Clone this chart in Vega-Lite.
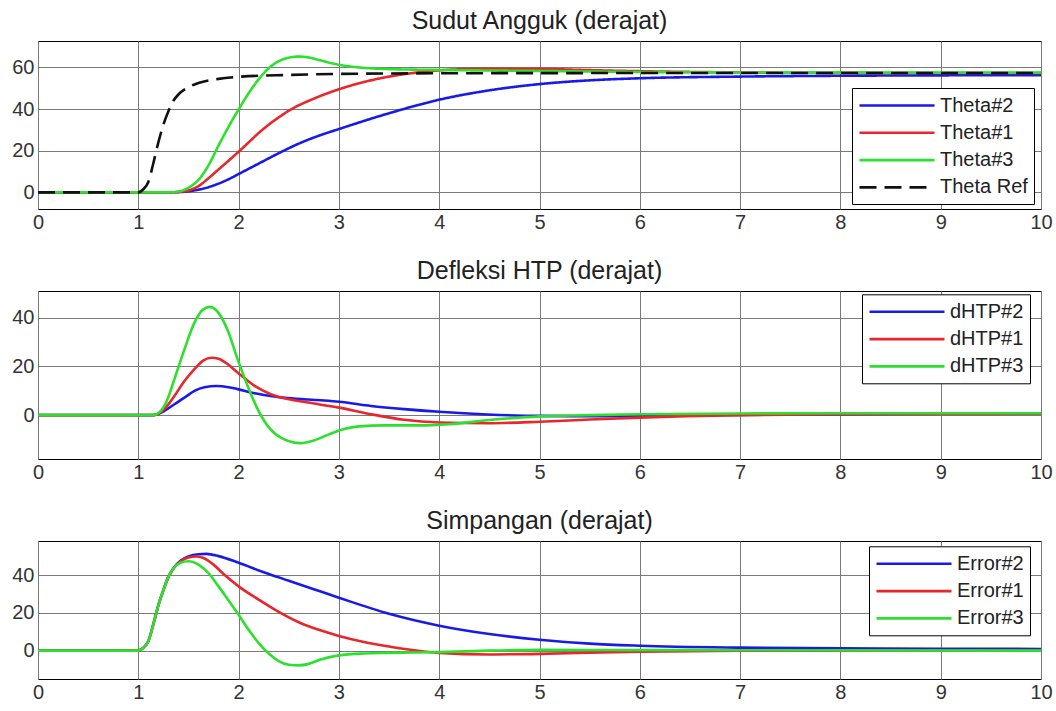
{
  "$schema": "https://vega.github.io/schema/vega-lite/v6.json",
  "padding": {"left": 7, "top": 8, "right": 0, "bottom": 0},
  "background": "white",
  "spacing": 82,
  "bounds": "flush",
  "resolve": {"scale": {"color": "independent", "strokeDash": "independent", "y": "independent"}, "legend": {"color": "independent", "strokeDash": "independent"}},
  "config": {
    "view": {"stroke": "#000000", "strokeWidth": 1},
    "axis": {"grid": true, "gridColor": "#7a7a7a", "gridOpacity": 1, "gridWidth": 1, "domain": false, "ticks": false, "labelFont": "Liberation Sans", "labelFontSize": 20, "labelColor": "#333333", "title": null, "labelFlush": false},
    "axisX": {"labelPadding": 3},
    "axisY": {"labelPadding": 4, "minExtent": 30, "maxExtent": 30},
    "title": {"font": "Liberation Sans", "fontSize": 25, "fontWeight": "normal", "color": "#222222", "offset": 7, "anchor": "middle", "frame": "group"},
    "legend": {"fillColor": "white", "strokeColor": "#000000", "padding": 6, "symbolType": "M-1,0H6.5", "symbolSize": 400, "symbolStrokeWidth": 2.5, "labelFont": "Liberation Sans", "labelFontSize": 20, "labelColor": "#222222", "rowPadding": 5.3, "labelOffset": 59, "title": null},
    "line": {"strokeWidth": 2.6, "interpolate": "monotone"}
  },
  "datasets": {
    "theta": [
      {"t":0,"v":0,"s":"Theta#2"},{"t":1,"v":0,"s":"Theta#2"},{"t":1.3,"v":0,"s":"Theta#2"},{"t":1.4,"v":0.1,"s":"Theta#2"},{"t":1.5,"v":0.5,"s":"Theta#2"},{"t":1.6,"v":1.3,"s":"Theta#2"},{"t":1.7,"v":2.5,"s":"Theta#2"},{"t":1.8,"v":4.2,"s":"Theta#2"},{"t":1.9,"v":6.3,"s":"Theta#2"},{"t":2,"v":8.8,"s":"Theta#2"},{"t":2.2,"v":13.8,"s":"Theta#2"},{"t":2.4,"v":18.8,"s":"Theta#2"},{"t":2.6,"v":23.4,"s":"Theta#2"},{"t":2.8,"v":27.2,"s":"Theta#2"},{"t":3,"v":30.4,"s":"Theta#2"},{"t":3.5,"v":38,"s":"Theta#2"},{"t":4,"v":44.5,"s":"Theta#2"},{"t":4.5,"v":49,"s":"Theta#2"},{"t":5,"v":52,"s":"Theta#2"},{"t":5.5,"v":53.8,"s":"Theta#2"},{"t":6,"v":54.8,"s":"Theta#2"},{"t":7,"v":55.6,"s":"Theta#2"},{"t":8,"v":56,"s":"Theta#2"},{"t":9,"v":56.2,"s":"Theta#2"},{"t":10,"v":56.3,"s":"Theta#2"},
      {"t":0,"v":0,"s":"Theta#1"},{"t":1.3,"v":0,"s":"Theta#1"},{"t":1.4,"v":0.2,"s":"Theta#1"},{"t":1.5,"v":0.9,"s":"Theta#1"},{"t":1.6,"v":3,"s":"Theta#1"},{"t":1.7,"v":6.8,"s":"Theta#1"},{"t":1.8,"v":11,"s":"Theta#1"},{"t":1.9,"v":15.2,"s":"Theta#1"},{"t":2,"v":19.5,"s":"Theta#1"},{"t":2.1,"v":24,"s":"Theta#1"},{"t":2.2,"v":28.5,"s":"Theta#1"},{"t":2.3,"v":32.5,"s":"Theta#1"},{"t":2.4,"v":36,"s":"Theta#1"},{"t":2.5,"v":39.2,"s":"Theta#1"},{"t":2.75,"v":45,"s":"Theta#1"},{"t":3,"v":49.5,"s":"Theta#1"},{"t":3.25,"v":53,"s":"Theta#1"},{"t":3.5,"v":55.6,"s":"Theta#1"},{"t":3.75,"v":57.4,"s":"Theta#1"},{"t":4,"v":58.6,"s":"Theta#1"},{"t":4.5,"v":59.4,"s":"Theta#1"},{"t":5,"v":59.3,"s":"Theta#1"},{"t":5.5,"v":58.7,"s":"Theta#1"},{"t":6,"v":58.2,"s":"Theta#1"},{"t":7,"v":57.6,"s":"Theta#1"},{"t":8,"v":57.4,"s":"Theta#1"},{"t":10,"v":57.3,"s":"Theta#1"},
      {"t":0,"v":0,"s":"Theta#3"},{"t":1.3,"v":0,"s":"Theta#3"},{"t":1.4,"v":0.4,"s":"Theta#3"},{"t":1.5,"v":2.2,"s":"Theta#3"},{"t":1.6,"v":6,"s":"Theta#3"},{"t":1.7,"v":13,"s":"Theta#3"},{"t":1.8,"v":22.5,"s":"Theta#3"},{"t":1.9,"v":31.5,"s":"Theta#3"},{"t":2,"v":39.8,"s":"Theta#3"},{"t":2.1,"v":47.6,"s":"Theta#3"},{"t":2.2,"v":54.3,"s":"Theta#3"},{"t":2.3,"v":59.6,"s":"Theta#3"},{"t":2.4,"v":63,"s":"Theta#3"},{"t":2.5,"v":64.7,"s":"Theta#3"},{"t":2.6,"v":65.2,"s":"Theta#3"},{"t":2.7,"v":64.8,"s":"Theta#3"},{"t":2.8,"v":63.6,"s":"Theta#3"},{"t":3,"v":61.3,"s":"Theta#3"},{"t":3.25,"v":59.8,"s":"Theta#3"},{"t":3.5,"v":59.2,"s":"Theta#3"},{"t":4,"v":58.8,"s":"Theta#3"},{"t":5,"v":58.3,"s":"Theta#3"},{"t":6,"v":57.8,"s":"Theta#3"},{"t":8,"v":57.5,"s":"Theta#3"},{"t":10,"v":57.5,"s":"Theta#3"},
      {"t":0,"v":0,"s":"Theta Ref"},{"t":1,"v":0,"s":"Theta Ref"},{"t":1.05,"v":1.5,"s":"Theta Ref"},{"t":1.1,"v":5,"s":"Theta Ref"},{"t":1.15,"v":14,"s":"Theta Ref"},{"t":1.2,"v":24,"s":"Theta Ref"},{"t":1.25,"v":32.5,"s":"Theta Ref"},{"t":1.3,"v":39,"s":"Theta Ref"},{"t":1.35,"v":44,"s":"Theta Ref"},{"t":1.4,"v":47,"s":"Theta Ref"},{"t":1.5,"v":50.5,"s":"Theta Ref"},{"t":1.6,"v":52.5,"s":"Theta Ref"},{"t":1.8,"v":54.5,"s":"Theta Ref"},{"t":2,"v":55.5,"s":"Theta Ref"},{"t":2.5,"v":56.4,"s":"Theta Ref"},{"t":3,"v":56.9,"s":"Theta Ref"},{"t":4,"v":57.2,"s":"Theta Ref"},{"t":6,"v":57.3,"s":"Theta Ref"},{"t":10,"v":57.3,"s":"Theta Ref"}
    ],
    "dhtp": [
      {"t":0,"v":0,"s":"dHTP#2"},{"t":1.15,"v":0,"s":"dHTP#2"},{"t":1.26,"v":1.8,"s":"dHTP#2"},{"t":1.36,"v":4.5,"s":"dHTP#2"},{"t":1.46,"v":7.2,"s":"dHTP#2"},{"t":1.56,"v":10,"s":"dHTP#2"},{"t":1.66,"v":11.5,"s":"dHTP#2"},{"t":1.78,"v":12,"s":"dHTP#2"},{"t":1.9,"v":11.5,"s":"dHTP#2"},{"t":1.99,"v":10.7,"s":"dHTP#2"},{"t":2.16,"v":9,"s":"dHTP#2"},{"t":2.32,"v":7.9,"s":"dHTP#2"},{"t":2.49,"v":7,"s":"dHTP#2"},{"t":2.82,"v":6.1,"s":"dHTP#2"},{"t":3,"v":5.5,"s":"dHTP#2"},{"t":3.32,"v":3.8,"s":"dHTP#2"},{"t":3.65,"v":2.5,"s":"dHTP#2"},{"t":4,"v":1.4,"s":"dHTP#2"},{"t":4.48,"v":0.3,"s":"dHTP#2"},{"t":5,"v":-0.3,"s":"dHTP#2"},{"t":5.5,"v":-0.4,"s":"dHTP#2"},{"t":6,"v":-0.2,"s":"dHTP#2"},{"t":7,"v":0.1,"s":"dHTP#2"},{"t":8,"v":0.4,"s":"dHTP#2"},{"t":9,"v":0.6,"s":"dHTP#2"},{"t":10,"v":0.7,"s":"dHTP#2"},
      {"t":0,"v":0,"s":"dHTP#1"},{"t":1.15,"v":0,"s":"dHTP#1"},{"t":1.26,"v":2.5,"s":"dHTP#1"},{"t":1.36,"v":7.9,"s":"dHTP#1"},{"t":1.46,"v":14,"s":"dHTP#1"},{"t":1.56,"v":18.9,"s":"dHTP#1"},{"t":1.65,"v":22.5,"s":"dHTP#1"},{"t":1.73,"v":23.6,"s":"dHTP#1"},{"t":1.8,"v":23.2,"s":"dHTP#1"},{"t":1.89,"v":21,"s":"dHTP#1"},{"t":1.99,"v":17.5,"s":"dHTP#1"},{"t":2.16,"v":12,"s":"dHTP#1"},{"t":2.32,"v":8.6,"s":"dHTP#1"},{"t":2.49,"v":6.6,"s":"dHTP#1"},{"t":2.69,"v":5.2,"s":"dHTP#1"},{"t":3,"v":3.1,"s":"dHTP#1"},{"t":3.32,"v":0.4,"s":"dHTP#1"},{"t":3.65,"v":-1.9,"s":"dHTP#1"},{"t":4,"v":-3,"s":"dHTP#1"},{"t":4.48,"v":-3.3,"s":"dHTP#1"},{"t":5,"v":-2.7,"s":"dHTP#1"},{"t":5.5,"v":-1.8,"s":"dHTP#1"},{"t":6,"v":-1,"s":"dHTP#1"},{"t":7,"v":0,"s":"dHTP#1"},{"t":8,"v":0.4,"s":"dHTP#1"},{"t":9,"v":0.5,"s":"dHTP#1"},{"t":10,"v":0.6,"s":"dHTP#1"},
      {"t":0,"v":0,"s":"dHTP#3"},{"t":1.15,"v":0,"s":"dHTP#3"},{"t":1.2,"v":0.8,"s":"dHTP#3"},{"t":1.26,"v":3.8,"s":"dHTP#3"},{"t":1.3,"v":7.5,"s":"dHTP#3"},{"t":1.36,"v":14.8,"s":"dHTP#3"},{"t":1.46,"v":27,"s":"dHTP#3"},{"t":1.56,"v":38,"s":"dHTP#3"},{"t":1.64,"v":43.2,"s":"dHTP#3"},{"t":1.71,"v":44.5,"s":"dHTP#3"},{"t":1.78,"v":43,"s":"dHTP#3"},{"t":1.89,"v":35,"s":"dHTP#3"},{"t":1.99,"v":23,"s":"dHTP#3"},{"t":2.09,"v":12,"s":"dHTP#3"},{"t":2.19,"v":2.5,"s":"dHTP#3"},{"t":2.29,"v":-4.4,"s":"dHTP#3"},{"t":2.42,"v":-9.2,"s":"dHTP#3"},{"t":2.62,"v":-11.5,"s":"dHTP#3"},{"t":2.75,"v":-10.4,"s":"dHTP#3"},{"t":2.9,"v":-7.9,"s":"dHTP#3"},{"t":3.05,"v":-5.7,"s":"dHTP#3"},{"t":3.2,"v":-4.6,"s":"dHTP#3"},{"t":3.45,"v":-4.2,"s":"dHTP#3"},{"t":3.8,"v":-4.2,"s":"dHTP#3"},{"t":4.1,"v":-3.7,"s":"dHTP#3"},{"t":4.5,"v":-2,"s":"dHTP#3"},{"t":5,"v":-0.5,"s":"dHTP#3"},{"t":5.5,"v":0,"s":"dHTP#3"},{"t":6,"v":0.4,"s":"dHTP#3"},{"t":7,"v":0.7,"s":"dHTP#3"},{"t":8,"v":0.8,"s":"dHTP#3"},{"t":10,"v":0.8,"s":"dHTP#3"}
    ],
    "err": [
      {"t":0,"v":0,"s":"Error#2"},{"t":1,"v":0,"s":"Error#2"},{"t":1.05,"v":1.5,"s":"Error#2"},{"t":1.1,"v":5,"s":"Error#2"},{"t":1.15,"v":14,"s":"Error#2"},{"t":1.2,"v":24,"s":"Error#2"},{"t":1.25,"v":32,"s":"Error#2"},{"t":1.3,"v":39,"s":"Error#2"},{"t":1.35,"v":43.5,"s":"Error#2"},{"t":1.42,"v":47.5,"s":"Error#2"},{"t":1.5,"v":49.8,"s":"Error#2"},{"t":1.6,"v":51,"s":"Error#2"},{"t":1.68,"v":51.2,"s":"Error#2"},{"t":1.8,"v":50,"s":"Error#2"},{"t":2,"v":46.5,"s":"Error#2"},{"t":2.25,"v":41.5,"s":"Error#2"},{"t":2.5,"v":37,"s":"Error#2"},{"t":2.75,"v":32.5,"s":"Error#2"},{"t":3,"v":28,"s":"Error#2"},{"t":3.5,"v":19.5,"s":"Error#2"},{"t":4,"v":13.2,"s":"Error#2"},{"t":4.5,"v":8.8,"s":"Error#2"},{"t":5,"v":5.8,"s":"Error#2"},{"t":5.5,"v":3.7,"s":"Error#2"},{"t":6,"v":2.6,"s":"Error#2"},{"t":7,"v":1.6,"s":"Error#2"},{"t":8,"v":1.2,"s":"Error#2"},{"t":9,"v":1,"s":"Error#2"},{"t":10,"v":0.9,"s":"Error#2"},
      {"t":0,"v":0,"s":"Error#1"},{"t":1,"v":0,"s":"Error#1"},{"t":1.05,"v":1.5,"s":"Error#1"},{"t":1.1,"v":5,"s":"Error#1"},{"t":1.15,"v":14,"s":"Error#1"},{"t":1.2,"v":24,"s":"Error#1"},{"t":1.25,"v":32,"s":"Error#1"},{"t":1.3,"v":39,"s":"Error#1"},{"t":1.35,"v":43.5,"s":"Error#1"},{"t":1.42,"v":47.3,"s":"Error#1"},{"t":1.5,"v":49.3,"s":"Error#1"},{"t":1.58,"v":49.8,"s":"Error#1"},{"t":1.65,"v":49,"s":"Error#1"},{"t":1.75,"v":45.5,"s":"Error#1"},{"t":1.85,"v":40.5,"s":"Error#1"},{"t":2,"v":34,"s":"Error#1"},{"t":2.2,"v":27,"s":"Error#1"},{"t":2.4,"v":20.5,"s":"Error#1"},{"t":2.6,"v":15,"s":"Error#1"},{"t":2.8,"v":11,"s":"Error#1"},{"t":3,"v":7.8,"s":"Error#1"},{"t":3.25,"v":4.6,"s":"Error#1"},{"t":3.5,"v":2.2,"s":"Error#1"},{"t":3.75,"v":0.2,"s":"Error#1"},{"t":4,"v":-1.2,"s":"Error#1"},{"t":4.5,"v":-2,"s":"Error#1"},{"t":5,"v":-1.7,"s":"Error#1"},{"t":5.5,"v":-1.1,"s":"Error#1"},{"t":6,"v":-0.5,"s":"Error#1"},{"t":7,"v":0,"s":"Error#1"},{"t":10,"v":0.2,"s":"Error#1"},
      {"t":0,"v":0,"s":"Error#3"},{"t":1,"v":0,"s":"Error#3"},{"t":1.05,"v":1.5,"s":"Error#3"},{"t":1.1,"v":5,"s":"Error#3"},{"t":1.15,"v":14,"s":"Error#3"},{"t":1.2,"v":24,"s":"Error#3"},{"t":1.25,"v":32,"s":"Error#3"},{"t":1.3,"v":39,"s":"Error#3"},{"t":1.35,"v":43.5,"s":"Error#3"},{"t":1.42,"v":46.5,"s":"Error#3"},{"t":1.5,"v":47.3,"s":"Error#3"},{"t":1.6,"v":45.5,"s":"Error#3"},{"t":1.7,"v":41,"s":"Error#3"},{"t":1.8,"v":34,"s":"Error#3"},{"t":1.9,"v":26.5,"s":"Error#3"},{"t":2,"v":19,"s":"Error#3"},{"t":2.1,"v":11,"s":"Error#3"},{"t":2.2,"v":4,"s":"Error#3"},{"t":2.3,"v":-1.5,"s":"Error#3"},{"t":2.4,"v":-5.5,"s":"Error#3"},{"t":2.5,"v":-7.5,"s":"Error#3"},{"t":2.6,"v":-7.8,"s":"Error#3"},{"t":2.7,"v":-7,"s":"Error#3"},{"t":2.8,"v":-5,"s":"Error#3"},{"t":3,"v":-2.5,"s":"Error#3"},{"t":3.25,"v":-1.5,"s":"Error#3"},{"t":3.5,"v":-1.2,"s":"Error#3"},{"t":4,"v":-0.8,"s":"Error#3"},{"t":4.5,"v":0,"s":"Error#3"},{"t":5,"v":0.4,"s":"Error#3"},{"t":6,"v":0.3,"s":"Error#3"},{"t":7,"v":0.2,"s":"Error#3"},{"t":10,"v":0,"s":"Error#3"}
    ]
  },
  "vconcat": [
    {
      "title": {"text": "Sudut Angguk (derajat)"},
      "width": 1003, "height": 168,
      "data": {"name": "theta"},
      "mark": {"type": "line"},
      "encoding": {
        "x": {"field": "t", "type": "quantitative", "scale": {"domain": [0, 10], "nice": false}, "axis": {"values": [0,1,2,3,4,5,6,7,8,9,10]}},
        "y": {"field": "v", "type": "quantitative", "scale": {"domain": [-8, 72.7], "nice": false, "zero": false}, "axis": {"values": [0, 20, 40, 60]}},
        "color": {"field": "s", "type": "nominal", "scale": {"domain": ["Theta#2", "Theta#1", "Theta#3", "Theta Ref"], "range": ["#1a1ae6", "#e8262b", "#2de02d", "#111111"]}, "legend": {"orient": "none", "legendX": 814, "legendY": 47}},
        "strokeDash": {"field": "s", "type": "nominal", "scale": {"domain": ["Theta#2", "Theta#1", "Theta#3", "Theta Ref"], "range": [[1, 0], [1, 0], [1, 0], [17, 8]]}, "legend": {"orient": "none", "legendX": 814, "legendY": 47}}
      }
    },
    {
      "title": {"text": "Defleksi HTP (derajat)"},
      "width": 1003, "height": 168,
      "data": {"name": "dhtp"},
      "mark": {"type": "line"},
      "encoding": {
        "x": {"field": "t", "type": "quantitative", "scale": {"domain": [0, 10], "nice": false}, "axis": {"values": [0,1,2,3,4,5,6,7,8,9,10]}},
        "y": {"field": "v", "type": "quantitative", "scale": {"domain": [-18, 51], "nice": false, "zero": false}, "axis": {"values": [0, 20, 40]}},
        "color": {"field": "s", "type": "nominal", "scale": {"domain": ["dHTP#2", "dHTP#1", "dHTP#3"], "range": ["#1a1ae6", "#e8262b", "#2de02d"]}, "legend": {"orient": "none", "legendX": 824, "legendY": 3.3}}
      }
    },
    {
      "title": {"text": "Simpangan (derajat)"},
      "width": 1003, "height": 138,
      "data": {"name": "err"},
      "mark": {"type": "line"},
      "encoding": {
        "x": {"field": "t", "type": "quantitative", "scale": {"domain": [0, 10], "nice": false}, "axis": {"values": [0,1,2,3,4,5,6,7,8,9,10]}},
        "y": {"field": "v", "type": "quantitative", "scale": {"domain": [-15, 58], "nice": false, "zero": false}, "axis": {"values": [0, 20, 40]}},
        "color": {"field": "s", "type": "nominal", "scale": {"domain": ["Error#2", "Error#1", "Error#3"], "range": ["#1a1ae6", "#e8262b", "#2de02d"]}, "legend": {"orient": "none", "legendX": 831, "legendY": 5.3}}
      }
    }
  ]
}
